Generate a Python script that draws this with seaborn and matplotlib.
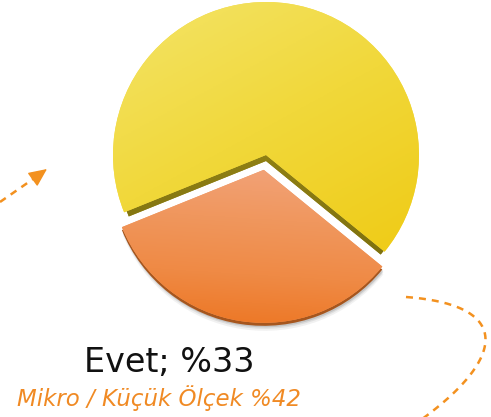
import numpy as np
import matplotlib
matplotlib.use('Agg')
import matplotlib.pyplot as plt
from matplotlib.colors import LinearSegmentedColormap
import seaborn as sns

# data
answers = ['Evet', 'Hayır']
shares = [33, 67]
segment = 'Mikro / Küçük Ölçek'
segment_share = 42

sns.set_theme(style='white')
plt.rcParams['font.family'] = ['DejaVu Sans']

W, H = 491, 417
fig = plt.figure(figsize=(W / 100, H / 100), dpi=100)
ax = fig.add_axes([0, 0, 1, 1])

cx, cy = 266, H - 155
R = 153
start = 202
explode = [15, 0]

# soft shadow under the pulled-out slice
for off, a in [(8, 0.08), (6, 0.12), (4.5, 0.18)]:
    ax.pie(shares, radius=R, center=(cx + 1, cy - off), startangle=start,
           explode=explode, colors=['#555555', 'none'],
           wedgeprops=dict(linewidth=0, alpha=a, zorder=1), frame=True)

# slice thickness (orange thin, yellow thicker)
ax.pie(shares, radius=R, center=(cx, cy - 3), startangle=start,
       explode=explode, colors=['#A6561E', 'none'],
       wedgeprops=dict(linewidth=0, zorder=2), frame=True)
thick, _ = ax.pie(shares, radius=R - 5, center=(cx, cy - 6), startangle=start,
                  explode=explode, colors=['none', '#9A8815'],
                  wedgeprops=dict(linewidth=0, zorder=3), frame=True)

# top faces
wedges, _ = ax.pie(shares, radius=R, center=(cx, cy), startangle=start,
                   explode=explode, colors=['#F09A63', '#F2DC4A'],
                   wedgeprops=dict(linewidth=0, zorder=4), frame=True)

yy, xx = np.mgrid[0:1:200j, 0:1:200j]
cm_or = LinearSegmentedColormap.from_list(
    'or', ['#ED7623', '#EF8A45', '#F0975E', '#F2A37A'])
cm_ye = LinearSegmentedColormap.from_list(
    'ye', ['#EFCB16', '#F1D83A', '#F4E468'])
cm_th = LinearSegmentedColormap.from_list('th', ['#7E7110', '#A8951A'])

for w, cm, grad in [(wedges[0], cm_or, yy * 0.9 + xx * 0.1),
                    (wedges[1], cm_ye, 0.6 * yy + 0.4 * (1 - xx)),
                    (thick[1], cm_th, yy)]:
    bb = w.get_path().get_extents()
    im = ax.imshow(grad, extent=(bb.x0, bb.x1, bb.y0, bb.y1), origin='lower',
                   cmap=cm, vmin=0, vmax=1, zorder=w.get_zorder() + 0.1)
    im.set_clip_path(w)

# labels
ax.text(169, H - 372, f'{answers[0]}; %{shares[0]}', fontsize=24,
        ha='center', va='baseline', color='#111111')
ax.text(159, H - 406, f'{segment} %{segment_share}', fontsize=16.5,
        style='italic', ha='center', va='baseline', color='#F08A24')

# dashed arrows
dash_col = '#F3911F'
ax.plot([0, 36], [H - 202, H - 177], color=dash_col, lw=1.8,
        dashes=(2.8, 2.4), solid_capstyle='butt', zorder=5)
ax.annotate('', xy=(47, H - 169), xytext=(36, H - 177),
            arrowprops=dict(arrowstyle='-|>,head_length=0.94,head_width=0.43',
                            color=dash_col, lw=1, shrinkA=0, shrinkB=0))

t = np.linspace(0, 1, 200)[:, None]
P = np.array([[406, H - 297], [515, H - 305], [505, H - 360], [418, H - 422]])
curve = ((1 - t) ** 3) * P[0] + 3 * ((1 - t) ** 2) * t * P[1] \
    + 3 * (1 - t) * t ** 2 * P[2] + t ** 3 * P[3]
ax.plot(curve[:, 0], curve[:, 1], color=dash_col, lw=1.8,
        dashes=(2.8, 2.4), zorder=5)

ax.set_xlim(0, W)
ax.set_ylim(0, H)
ax.set_aspect('equal')
ax.axis('off')

plt.savefig('out.png', dpi=100)
